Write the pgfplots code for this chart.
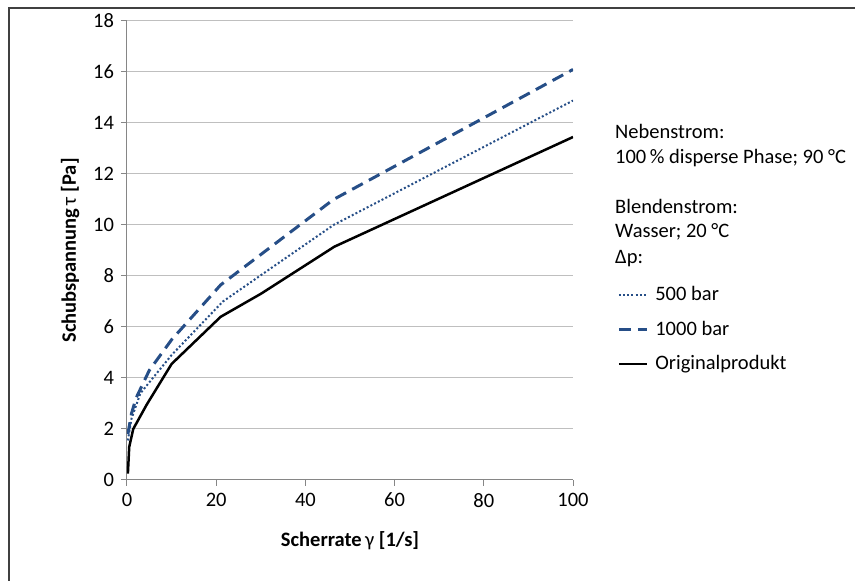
\documentclass[border=0pt]{standalone}
\usepackage{fontspec}
\setmainfont{Carlito}
\usepackage{pgfplots}
\pgfplotsset{compat=1.18}

\definecolor{axisgray}{RGB}{134,134,134}
\definecolor{gridgray}{RGB}{191,191,191}
\definecolor{xlblue}{RGB}{38,78,135}

\pgfplotstableread{
x y
0.2 0.25
0.5 1.3
1.4 2.0
4.4 2.95
10 4.55
21 6.4
30 7.3
46.5 9.15
100 13.45
}\original

\pgfplotstableread{
x y
0.2 1.55
1 2.4
3 3.4
10 4.9
21.5 7.0
46.3 10.0
100 14.88
}\fivehundred

\pgfplotstableread{
x y
0.2 1.8
1 2.6
2 3.2
5 4.3
10 5.5
21 7.65
46.3 11.0
100 16.1
}\thousand

\begin{document}
\fontsize{20.5}{24}\selectfont
\begin{tikzpicture}[x=1pt,y=1pt]
\useasboundingbox (0,0) rectangle (855,581);
\draw[line width=2pt, color=black!75] (9,-5) -- (9,573) -- (860,573);
\begin{axis}[
  at={(127pt,101pt)}, anchor=south west,
  scale only axis, width=446pt, height=459pt,
  xmin=0, xmax=100, ymin=0, ymax=18,
  xtick={0,20,...,100}, ytick={0,2,...,18},
  axis x line*=bottom, axis y line*=left,
  axis line style={color=axisgray, line width=1pt},
  ymajorgrids, grid style={color=gridgray, line width=1pt},
  tick align=outside, major tick length=6pt,
  tick style={color=axisgray, line width=1pt},
  tick label style={font=\fontsize{20.5}{24}\selectfont},
  /pgf/number format/assume math mode=true,
  xlabel={\textbf{Scherrate}\,γ \textbf{[1/s]}},
  ylabel={\textbf{Schubspannung}\,τ \textbf{[Pa]}},
  label style={font=\fontsize{20.5}{24}\selectfont},
  xlabel style={yshift=-10pt},
  legend style={at={(1.099,0.428)}, anchor=north west, draw=none, fill=none,
    font=\fontsize{20.5}{24}\selectfont, row sep=11pt, inner sep=0pt,
    nodes={inner sep=3pt}},
  legend cell align=left,
  legend image code/.code={\draw[#1] (0pt,0pt) -- (28pt,0pt); \path (32pt,0pt);},
]
\addplot[xlblue, line width=2pt, dash pattern=on 2pt off 2.2pt] table {\fivehundred};
\addlegendentry{500 bar}
\addplot[xlblue, line width=3pt, dash pattern=on 12pt off 7pt] table {\thousand};
\addlegendentry{1000 bar}
\addplot[black, line width=2.5pt] table {\original};
\addlegendentry{Originalprodukt}
\end{axis}
\node[anchor=west, inner sep=0pt] at (615,450) {Nebenstrom:};
\node[anchor=west, inner sep=0pt] at (615,423) {100\,\% disperse Phase; 90 °C};
\node[anchor=west, inner sep=0pt] at (615,375) {Blendenstrom:};
\node[anchor=west, inner sep=0pt] at (615,349) {Wasser; 20 °C};
\node[anchor=west, inner sep=0pt] at (615,322) {Δp:};
\end{tikzpicture}
\end{document}
